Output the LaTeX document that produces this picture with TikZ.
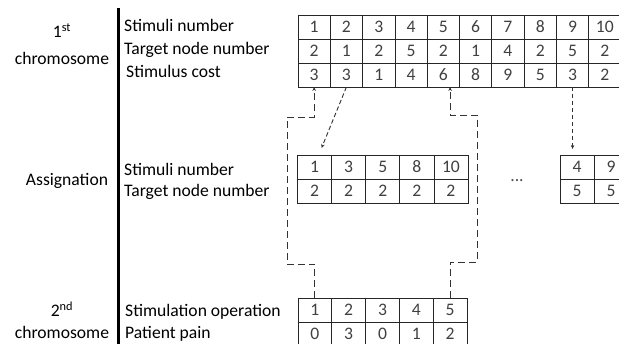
\documentclass[tikz,border=0pt]{standalone}
\usepackage{fontspec}
\setmainfont{Carlito}
\usetikzlibrary{arrows.meta,calc}

\tikzset{
  cell/.style={draw=black!85, line width=0.8pt, minimum width=#1, minimum height=24pt,
    inner sep=0pt, outer sep=0pt, text=black!75},
  lbl/.style={anchor=west, inner sep=0pt, text height=12pt, text depth=3pt},
  side/.style={inner sep=0pt, text height=12pt, text depth=3pt},
  route/.style={draw=black!80, line width=0.9pt, dash pattern=on 7pt off 4pt},
  link/.style={draw=black!80, line width=0.9pt, dash pattern=on 4.5pt off 2.5pt},
  tip/.style={-{Stealth[length=4pt,width=3.5pt]}}
}

\begin{document}
\begin{tikzpicture}[x=1pt,y=1pt]

  \fontsize{17.6}{21}\selectfont

  \newcommand\CWtop{32.3}
  \newcommand\CWasg{34.1}
  \newcommand\CWbot{33.8}

  \useasboundingbox (0,0) rectangle (619,344);
  \clip (0,0) rectangle (619,344);

  % separator
  \draw[line width=3pt] (118,336) -- (118,0);

  % left titles
  \node[side] (first) at (62,311) {1\textsuperscript{st}};
  \node[side] (chromA) at (62,284) {chromosome};
  \node[side] (asgn) at (67,163) {Assignation};
  \node[side] (second) at (62,32) {2\textsuperscript{nd}};
  \node[side] (chromB) at (62,10) {chromosome};

  % row labels
  \node[lbl] (lstim) at (124,317) {Stimuli number};
  \node[lbl] (ltarget) at (124,294) {Target node number};
  \node[lbl] (lcost) at (126,271) {Stimulus cost};
  \node[lbl] (lstimB) at (124,173) {Stimuli number};
  \node[lbl] (ltargetB) at (124,152) {Target node number};
  \node[lbl] (lop) at (125,32) {Stimulation operation};
  \node[lbl] (lpain) at (125,10) {Patient pain};

  % 1st chromosome
  \foreach \v [count=\i] in {1,2,3,4,5,6,7,8,9,10}
    \node[cell=\CWtop] (c-\i-1) at (298+\CWtop*\i-\CWtop/2, 317) {\v};
  \foreach \v [count=\i] in {2,1,2,5,2,1,4,2,5,2}
    \node[cell=\CWtop] (c-\i-2) at (298+\CWtop*\i-\CWtop/2, 293) {\v};
  \foreach \v [count=\i] in {3,3,1,4,6,8,9,5,3,2}
    \node[cell=\CWtop] (c-\i-3) at (298+\CWtop*\i-\CWtop/2, 269) {\v};

  % assignation, target node 2
  \foreach \v [count=\i] in {1,3,5,8,10}
    \node[cell=\CWasg] (a-\i-1) at (297.5+\CWasg*\i-\CWasg/2, 177) {\v};
  \foreach \v [count=\i] in {2,2,2,2,2}
    \node[cell=\CWasg] (a-\i-2) at (297.5+\CWasg*\i-\CWasg/2, 153) {\v};

  \node[inner sep=0pt, text=black!70] (dots) at (517,163) {...};

  % assignation, target node 5
  \foreach \v [count=\i] in {4,9}
    \node[cell=34] (b-\i-1) at (560+34*\i-17, 177) {\v};
  \foreach \v [count=\i] in {5,5}
    \node[cell=34] (b-\i-2) at (560+34*\i-17, 153) {\v};

  % 2nd chromosome
  \foreach \v [count=\i] in {1,2,3,4,5}
    \node[cell=\CWbot] (p-\i-1) at (298+\CWbot*\i-\CWbot/2, 34) {\v};
  \foreach \v [count=\i] in {0,3,0,1,2}
    \node[cell=\CWbot] (p-\i-2) at (298+\CWbot*\i-\CWbot/2, 10) {\v};

  \draw[route,tip] (p-1-1.north) -- ++(0,34) -| (287,227) -| (c-1-3.south); %% op 1 -> cost
  \draw[route,tip] (p-5-1.north) -- ++(0,36) -| (477,229) -| (p-5-1 |- c-5-3.south); %% op 5 -> cost

  \draw[link,tip] (c-2-3.south) -- ($(a-1-1.north)+(7,7)$); % 3 -> group 2
  \draw[link,tip] (c-9-3.south) -- ($(c-9-3.south |- b-1-1.north)+(0,6)$); % 9 -> group 5

\end{tikzpicture}
\end{document}
